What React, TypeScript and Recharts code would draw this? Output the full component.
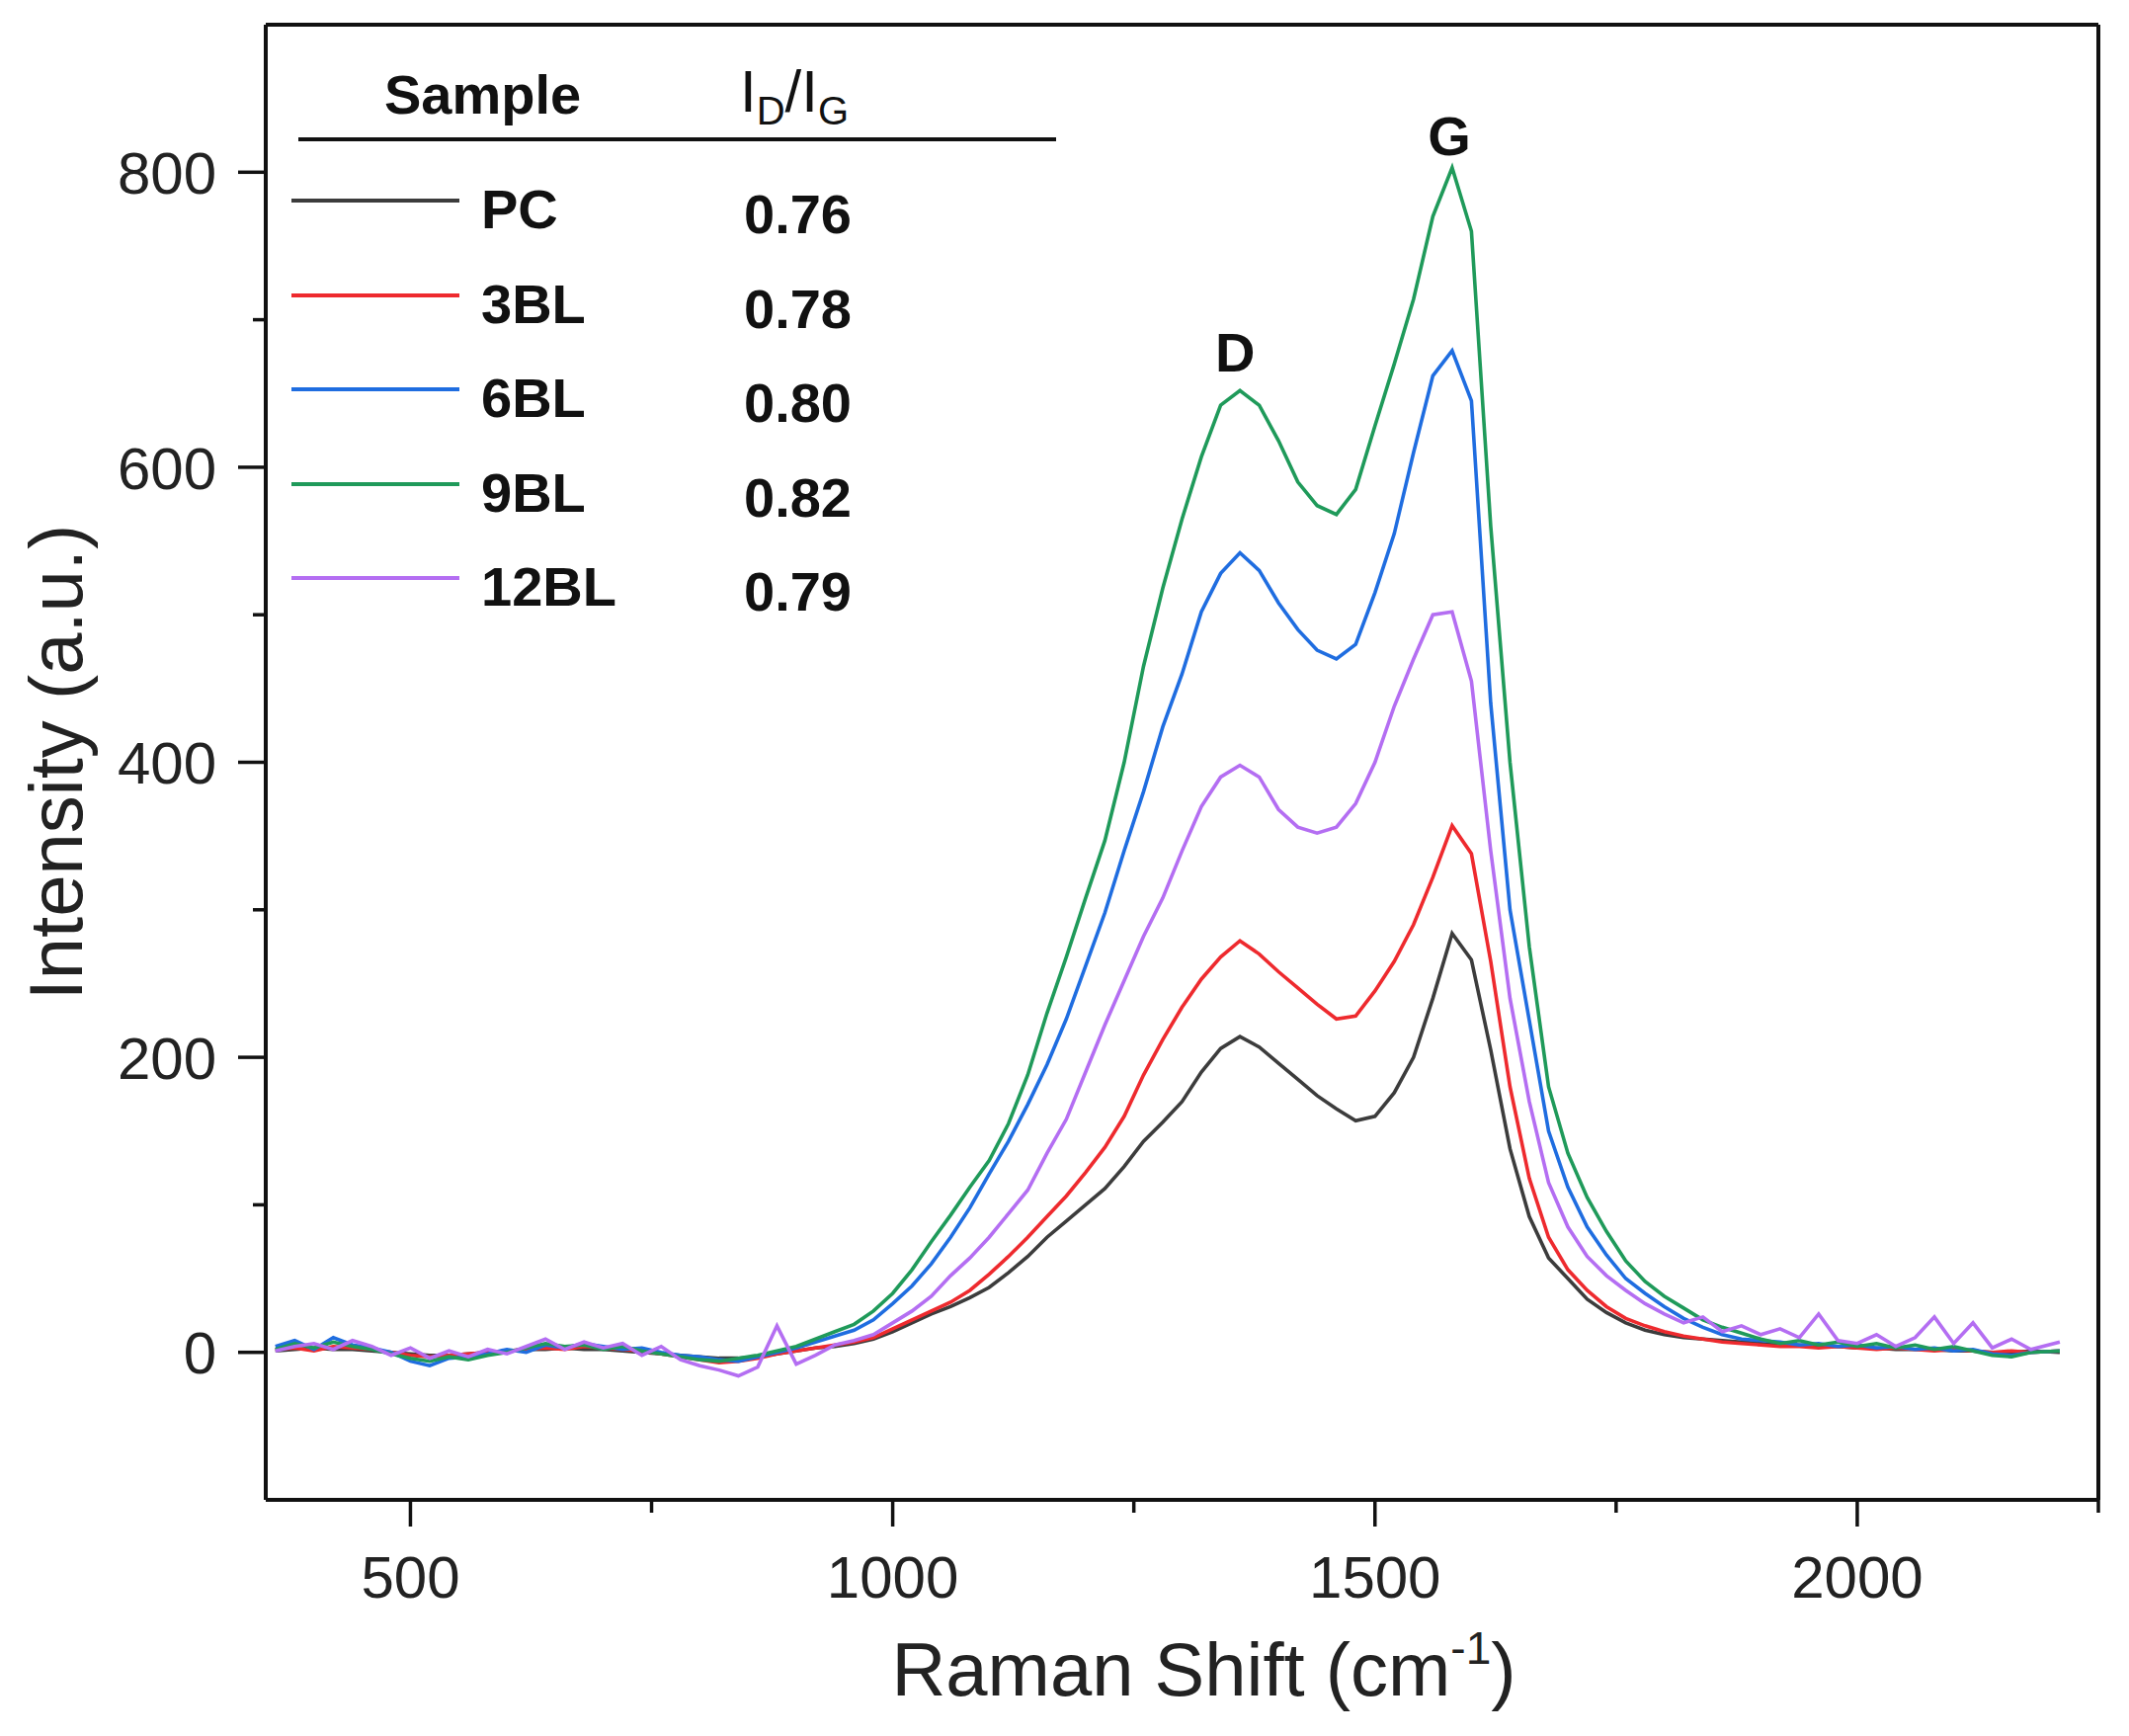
import { LineChart, Line, XAxis, YAxis, ReferenceLine, ReferenceDot } from 'recharts';

// Raman shift sampling positions (cm-1)
const shifts = [
  360, 380, 400, 420, 440, 460, 480, 500, 520, 540,
  560, 580, 600, 620, 640, 660, 680, 700, 720, 740,
  760, 780, 800, 820, 840, 860, 880, 900, 920, 940,
  960, 980, 1000, 1020, 1040, 1060, 1080, 1100, 1120, 1140,
  1160, 1180, 1200, 1220, 1240, 1260, 1280, 1300, 1320, 1340,
  1360, 1380, 1400, 1420, 1440, 1460, 1480, 1500, 1520, 1540,
  1560, 1580, 1600, 1620, 1640, 1660, 1680, 1700, 1720, 1740,
  1760, 1780, 1800, 1820, 1840, 1860, 1880, 1900, 1920, 1940,
  1960, 1980, 2000, 2020, 2040, 2060, 2080, 2100, 2120, 2140,
  2160, 2180, 2210,
];

const pc = [
  1, 2, 3, 2, 2, 1, 0, -1, -2, -2,
  -1, 0, 1, 2, 2, 3, 2, 2, 1, 0,
  -1, -2, -3, -4, -4, -3, -1, 1, 3, 4,
  6, 9, 14, 20, 26, 31, 37, 44, 54, 65,
  78, 89, 100, 111, 126, 143, 156, 170, 190, 206,
  214, 207, 196, 185, 174, 165, 157, 160, 176, 200,
  240, 284, 266, 205, 138, 92, 64, 50, 36, 27,
  20, 15, 12, 10, 9, 8, 7, 6, 5, 5,
  4, 4, 3, 3, 2, 2, 2, 1, 1, 0,
  0, 1, 0,
];

const bl3 = [
  2, 3, 1, 4, 3, 2, 0, -2, -3, -2,
  -1, 0, 1, 2, 3, 2, 4, 3, 2, 1,
  -1, -3, -5, -7, -6, -4, -1, 1, 3, 5,
  7, 10, 16, 22, 28, 34, 42, 53, 65, 78,
  92, 106, 122, 139, 160, 188, 212, 234, 253, 268,
  279, 270, 258, 247, 236, 226, 228, 245, 265, 290,
  322, 357, 338, 265, 180, 118, 78, 56, 42, 31,
  23, 18, 14, 11, 9, 7, 6, 5, 4, 4,
  3, 4, 3, 2, 3, 2, 1, 2, 1, 0,
  1, 0, 1,
];

const bl6 = [
  4, 8, 2, 10, 5, 3, 0, -6, -9, -4,
  -3, -1, 2, 0, 5, 3, 6, 4, 2, 3,
  0, -2, -3, -5, -6, -3, 0, 3, 7, 11,
  15, 22, 33, 45, 60, 78, 98, 121, 143, 168,
  195, 226, 262, 298, 340, 380, 424, 460, 502, 528,
  542, 530, 508, 490, 476, 470, 480, 515, 555, 610,
  662, 679, 645, 440, 300, 225, 150, 112, 85, 66,
  50, 40, 31, 23, 17, 12, 9, 8, 7, 5,
  6, 4, 5, 3, 4, 2, 3, 1, 2, -1,
  -2, 0, 1,
];

const bl9 = [
  2, 6, 3, 7, 4, 2, -1, -4, -6, -3,
  -5, -2, 0, 3, 6, 4, 5, 2, 4, 1,
  -1, -3, -5, -6, -4, -2, 1, 4, 9, 14,
  19, 28, 40, 56, 75, 93, 112, 130, 155, 188,
  230, 268, 308, 347, 400, 465, 518, 565, 607, 642,
  652, 642, 618, 590, 574, 568, 585, 628, 670, 714,
  770, 803, 760, 560, 400, 275, 180, 135, 105, 82,
  62, 48, 38, 30, 22, 17, 13, 9, 6, 8,
  5, 7, 4, 6, 3, 5, 2, 4, 1, -2,
  -3, 0, 1,
];

const bl12 = [
  1, 4, 6, 2, 8, 4, -2, 3, -4, 1,
  -3, 2, -1, 4, 9, 2, 7, 3, 6, -2,
  4, -5, -9, -12, -16, -10, 18, -8, -2, 5,
  8, 12, 20, 28, 38, 52, 64, 78, 94, 110,
  135, 158, 190, 222, 252, 282, 308, 340, 370, 390,
  398, 390, 368, 356, 352, 356, 372, 400, 438, 470,
  500, 502, 455, 340, 240, 170, 115, 85, 65, 52,
  42, 33, 26, 20, 24, 14, 18, 12, 16, 10,
  26, 8, 6, 12, 4, 10, 24, 6, 20, 3,
  9, 2, 7,
];

const sampleNames = ['PC', '3BL', '6BL', '9BL', '12BL'];
const sampleKeys = ['pc', 'bl3', 'bl6', 'bl9', 'bl12'];
const ratios = ['0.76', '0.78', '0.80', '0.82', '0.79'];
const colors = ['#3c3c3c', '#ee2a2e', '#1f6de0', '#1f9a5a', '#b46ef2'];

const xTicks = [500, 750, 1000, 1250, 1500, 1750, 2000, 2250];
const yTicks = [0, 100, 200, 300, 400, 500, 600, 700, 800];

const rows = shifts.map((x, i) => ({
  x,
  pc: pc[i],
  bl3: bl3[i],
  bl6: bl6[i],
  bl9: bl9[i],
  bl12: bl12[i],
}));

const FONT = "'Liberation Sans', Arial, Helvetica, sans-serif";

// tickSize/tickMargin are 0 so x/y here sit on the axis line
const XTick = ({ x, y, payload }: any) => {
  const major = payload.value % 500 === 0;
  return (
    <g>
      <line x1={x} x2={x} y1={y} y2={y + (major ? 27 : 13)} stroke="#111" strokeWidth={3.5} />
      {major && (
        <text x={x} y={y + 99} textAnchor="middle" fontSize={60} fontFamily={FONT} fill="#222">
          {payload.value}
        </text>
      )}
    </g>
  );
};

const YTick = ({ x, y, payload }: any) => {
  const major = payload.value % 200 === 0;
  return (
    <g>
      <line x1={x - (major ? 28 : 13)} x2={x} y1={y} y2={y} stroke="#111" strokeWidth={3.5} />
      {major && (
        <text x={x - 50} y={y} dy="0.36em" textAnchor="end" fontSize={60} fontFamily={FONT} fill="#222">
          {payload.value}
        </text>
      )}
    </g>
  );
};

const YTitle = ({ viewBox }: any) => {
  const cx = viewBox.x + 56;
  const cy = viewBox.y + viewBox.height / 2;
  return (
    <text
      x={cx}
      y={cy}
      dy="0.36em"
      transform={`rotate(-90 ${cx} ${cy})`}
      textAnchor="middle"
      fontSize={76}
      fontFamily={FONT}
      fill="#222"
    >
      Intensity (a.u.)
    </text>
  );
};

const XTitle = ({ viewBox }: any) => {
  const cx = viewBox.x + viewBox.width / 2 + 22;
  const by = viewBox.y + 198;
  return (
    <text x={cx} y={by} textAnchor="middle" fontSize={76} fontFamily={FONT} fill="#222">
      Raman Shift (cm
      <tspan fontSize={46} dy={-32}>-1</tspan>
      <tspan dy={32}>)</tspan>
    </text>
  );
};

const legendText: React.CSSProperties = {
  position: 'absolute',
  fontFamily: FONT,
  fontWeight: 'bold',
  fontSize: 56,
  color: '#111',
  height: 70,
  lineHeight: '70px',
  whiteSpace: 'nowrap',
};

function SampleTable() {
  const rowTop = 203;
  const rowGap = 95.5;
  return (
    <div style={{ position: 'absolute', left: 0, top: 0 }}>
      <div style={{ ...legendText, left: 389, top: 61 }}>Sample</div>
      <div style={{ ...legendText, fontWeight: 'normal', fontSize: 60, left: 749, top: 58 }}>
        I<sub style={{ fontSize: 40 }}>D</sub>/I<sub style={{ fontSize: 40 }}>G</sub>
      </div>
      <div style={{ position: 'absolute', left: 302, top: 139, width: 767, height: 4, background: '#111' }} />
      {sampleNames.map((name, i) => {
        const cy = rowTop + i * rowGap;
        return (
          <div key={name}>
            <div
              style={{
                position: 'absolute',
                left: 295,
                top: cy - 2,
                width: 170,
                height: 4,
                background: colors[i],
              }}
            />
            <div style={{ ...legendText, left: 487, top: cy + 9 - 35 }}>{name}</div>
            <div style={{ ...legendText, left: 753, top: cy + 14 - 35 }}>{ratios[i]}</div>
          </div>
        );
      })}
    </div>
  );
}

export default function App() {
  return (
    <div style={{ position: 'absolute', left: 0, top: 0, width: 2155, height: 1757, background: '#fff' }}>
      <LineChart
        width={2155}
        height={1757}
        data={rows}
        margin={{ top: 25, right: 31, bottom: 0, left: 0 }}
      >
        <XAxis
          dataKey="x"
          type="number"
          domain={[350, 2250]}
          ticks={xTicks}
          interval={0}
          allowDataOverflow
          height={239}
          tickSize={0}
          tickMargin={0}
          tickLine={false}
          tick={<XTick />}
          axisLine={{ stroke: '#111', strokeWidth: 4 }}
          label={<XTitle />}
        />
        <YAxis
          type="number"
          domain={[-100, 900]}
          ticks={yTicks}
          interval={0}
          allowDataOverflow
          width={269}
          tickSize={0}
          tickMargin={0}
          tickLine={false}
          tick={<YTick />}
          axisLine={{ stroke: '#111', strokeWidth: 4 }}
          label={<YTitle />}
        />
        <ReferenceLine y={900} stroke="#111" strokeWidth={4} />
        <ReferenceLine x={2250} stroke="#111" strokeWidth={4} />
        {sampleKeys.map((k, i) => (
          <Line
            key={k}
            dataKey={k}
            type="linear"
            stroke={colors[i]}
            strokeWidth={3.6}
            dot={false}
            activeDot={false}
            isAnimationActive={false}
          />
        ))}
        <ReferenceDot
          x={1355}
          y={678}
          r={0}
          fill="none"
          stroke="none"
          label={{ value: 'D', position: 'center', fontSize: 56, fontWeight: 'bold', fill: '#111', fontFamily: FONT }}
        />
        <ReferenceDot
          x={1577}
          y={825}
          r={0}
          fill="none"
          stroke="none"
          label={{ value: 'G', position: 'center', fontSize: 56, fontWeight: 'bold', fill: '#111', fontFamily: FONT }}
        />
      </LineChart>
      <SampleTable />
    </div>
  );
}
